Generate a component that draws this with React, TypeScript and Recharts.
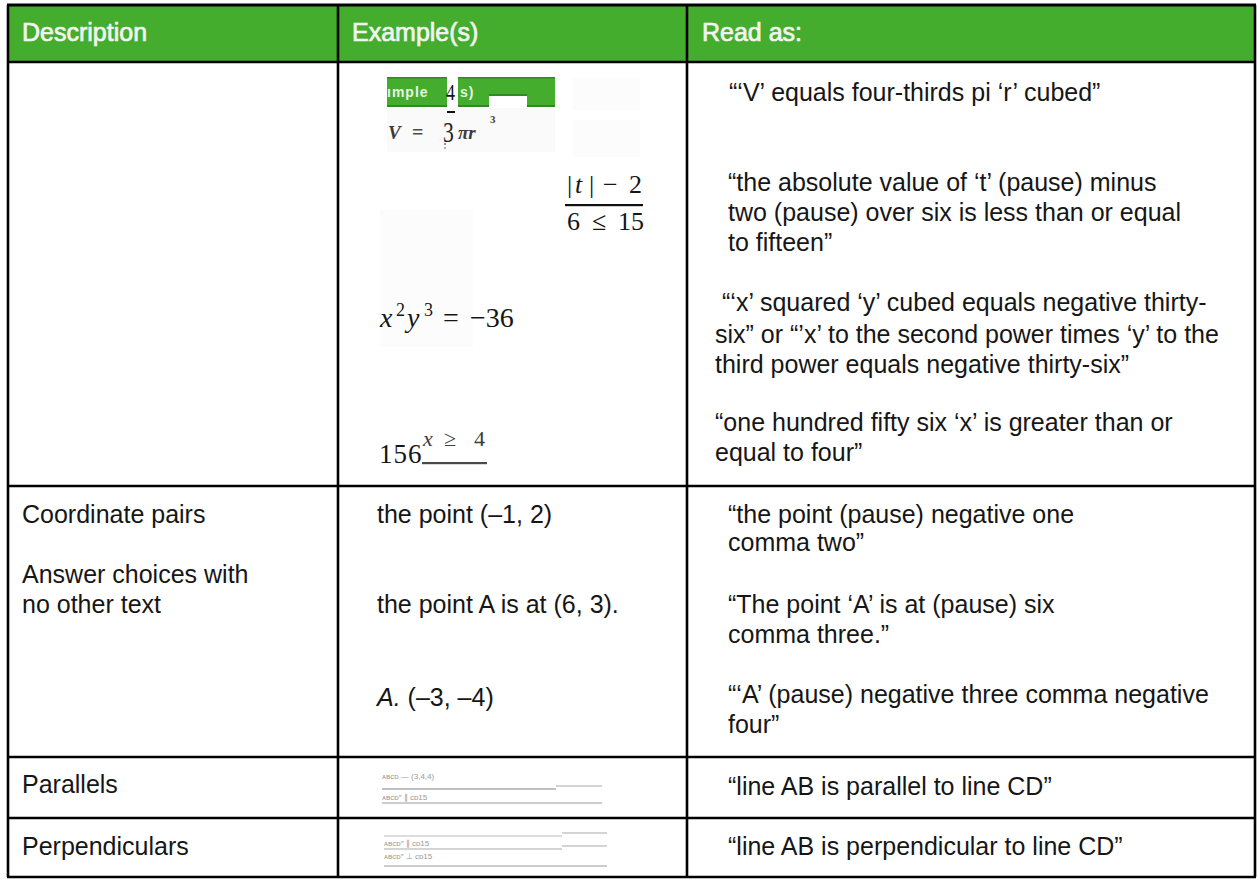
import React from 'react';
import { Surface, Layer, Rectangle } from 'recharts';

// ---------- content ----------
const HEADERS = ['Description', 'Example(s)', 'Read as:'];

const DESCRIPTION_LINES = [
  'Coordinate pairs',
  'Answer choices with',
  'no other text',
  'Parallels',
  'Perpendiculars',
];

const EXAMPLE_LINES = ['the point (–1, 2)', 'the point A is at (6, 3).', ' (–3, –4)'];
const EXAMPLE_ITALIC_PREFIX = ['', '', 'A.'];

const READ_AS_LINES = [
  '“‘V’ equals four-thirds pi ‘r’ cubed”',
  '“the absolute value of ‘t’ (pause) minus',
  'two (pause) over six is less than or equal',
  'to fifteen”',
  '“‘x’ squared ‘y’ cubed equals negative thirty-',
  'six” or “’x’ to the second power times ‘y’ to the',
  'third power equals negative thirty-six”',
  '“one hundred fifty six ‘x’ is greater than or',
  'equal to four”',
  '“the point (pause) negative one',
  'comma two”',
  '“The point ‘A’ is at (pause) six',
  'comma three.”',
  '“‘A’ (pause) negative three comma negative',
  'four”',
  '“line AB is parallel to line CD”',
  '“line AB is perpendicular to line CD”',
];

const FRACTION_NUM = ['|', 't', '|', '−', '2'];
const FRACTION_DEN = ['6', '≤', '15'];
const POWER_PARTS = ['x', '2', 'y', '3', '=', '−36'];
const INEQ_PARTS = ['156', 'x', '≥', '4'];
const VOLUME_PARTS = ['V', '=', '3', 'πr', '3', '4'];
const SCRAP_TEXT = ['ımple', 's)'];
const PARALLEL_SCRAPS = ['ᴀʙᴄᴅ — (3,4,4)', 'ᴀʙᴄᴅ″ ∥ ᴄᴅ15'];
const PERP_SCRAPS = ['ᴀʙᴄᴅ″ ∥ ᴄᴅ15', 'ᴀʙᴄᴅ″ ⊥ ᴄᴅ15'];

// ---------- layout ----------
const W = 1257;
const H = 879;
const COL_X = [8, 338, 687, 1255];
const ROW_Y = [5, 62, 486, 757, 818, 877];
const GREEN = '#44ad2d';
const DARK_GREEN = '#35862a';
const SANS = '"Liberation Sans", Arial, sans-serif';
const SERIF = '"Liberation Serif", "Times New Roman", serif';
const FS = 25;
const BASE = 8; // centre -> baseline offset

const HEADER_X = [22, 352, 702];
const DESC_POS = [[22, 515], [22, 575], [22, 605], [22, 785], [22, 847]];
const EX_POS = [[377, 515], [377, 605], [377, 698]];
const READ_POS = [
  [729, 93], [728, 183], [728, 213], [728, 243],
  [722, 303], [715, 335], [715, 365], [715, 423], [715, 453],
  [728, 515], [728, 543], [728, 605], [728, 635], [728, 695], [728, 725],
  [728, 787], [728, 847],
];

const TXT = '#161616';

function T({ x, y, children, size = FS, fill = TXT, family = SANS, style = 'normal', anchor = 'start', weight = 'normal', spacing = 0 }: any) {
  return (
    <text x={x} y={y} fontSize={size} fill={fill} fontFamily={family} fontStyle={style} textAnchor={anchor} fontWeight={weight} letterSpacing={spacing} style={{ whiteSpace: 'pre' }}>
      {children}
    </text>
  );
}

export default function App() {
  return (
    <div style={{ position: 'absolute', left: 0, top: 0, width: W, height: H, background: '#fff' }}>
      <Surface width={W} height={H}>
        <rect x={0} y={0} width={W} height={H} fill="#fff" />

        {/* header band */}
        <Rectangle x={COL_X[0]} y={ROW_Y[0]} width={COL_X[3] - COL_X[0]} height={ROW_Y[1] - ROW_Y[0]} fill={GREEN} />
        {HEADERS.map((h, i) => (
          <T key={h} x={HEADER_X[i]} y={41} fill="#f2f4f0">
            <tspan stroke="#f2f4f0" strokeWidth={0.7}>{h}</tspan>
          </T>
        ))}

        {/* faint image frames */}
        <Layer>
          <rect x={573} y={78} width={67} height={32} fill="#fcfcfc" />
          <rect x={573} y={120} width={67} height={37} fill="#fcfcfc" />
          <rect x={380} y={210} width={93} height={137} fill="#fcfcfc" />
          <rect x={387} y={108} width={168} height={44} fill="#fafafa" />
        </Layer>

        {/* V = 4/3 pi r^3 scrap image */}
        <Layer>
          <Rectangle x={387} y={77} width={60} height={30} fill={GREEN} />
          <Rectangle x={458} y={77} width={31} height={30} fill={GREEN} />
          <Rectangle x={489} y={77} width={38} height={19} fill={GREEN} />
          <Rectangle x={527} y={77} width={28} height={30} fill={GREEN} />
          <rect x={387} y={77} width={168} height={1.5} fill={DARK_GREEN} />
          <rect x={387} y={105} width={60} height={2} fill={DARK_GREEN} />
          <rect x={458} y={105} width={31} height={2} fill={DARK_GREEN} />
          <rect x={489} y={94} width={38} height={2} fill={DARK_GREEN} />
          <rect x={527} y={105} width={28} height={2} fill={DARK_GREEN} />
          <rect x={447} y={77} width={11} height={30} fill="#fff" />
          <T x={387} y={97} size={14} fill="#e9f3e4" weight="bold" spacing={1}>{SCRAP_TEXT[0]}</T>
          <T x={460} y={97} size={14} fill="#e9f3e4" weight="bold" spacing={1}>{SCRAP_TEXT[1]}</T>
          <g transform="translate(446,100) scale(0.75,1)">
            <T x={0} y={0} size={24} family={SERIF}>{VOLUME_PARTS[5]}</T>
          </g>
          <rect x={447} y={111} width={8} height={2} fill="#111" />
          <T x={388} y={139} size={19} family={SERIF} style="italic" weight="bold" fill="#3a3a3a">{VOLUME_PARTS[0]}</T>
          <T x={412} y={139} size={20} family={SERIF} weight="bold" fill="#4a4a4a">{VOLUME_PARTS[1]}</T>
          <g transform="translate(443,142) scale(0.72,1)">
            <T x={0} y={0} size={30} family={SERIF} fill="#222">{VOLUME_PARTS[2]}</T>
          </g>
          <circle cx={445} cy={144} r={1} fill="#777" />
          <circle cx={445} cy={148} r={1} fill="#999" />
          <T x={458} y={139} size={19} family={SERIF} style="italic" weight="bold" fill="#3a3a3a">{VOLUME_PARTS[3]}</T>
          <T x={490} y={123} size={11} family={SERIF} weight="bold" fill="#444">{VOLUME_PARTS[4]}</T>
        </Layer>

        {/* fraction |t|-2 over 6<=15 */}
        <Layer>
          <T x={567} y={193} size={26} family={SERIF}>{FRACTION_NUM[0]}</T>
          <T x={575} y={193} size={26} family={SERIF} style="italic">{FRACTION_NUM[1]}</T>
          <T x={589} y={193} size={26} family={SERIF}>{FRACTION_NUM[2]}</T>
          <T x={603} y={193} size={26} family={SERIF}>{FRACTION_NUM[3]}</T>
          <T x={629} y={193} size={26} family={SERIF}>{FRACTION_NUM[4]}</T>
          <rect x={565} y={204} width={78} height={2.2} fill="#111" />
          <T x={567} y={230} size={26} family={SERIF}>{FRACTION_DEN[0]}</T>
          <T x={592} y={230} size={26} family={SERIF}>{FRACTION_DEN[1]}</T>
          <T x={618} y={230} size={26} family={SERIF}>{FRACTION_DEN[2]}</T>
        </Layer>

        {/* x^2 y^3 = -36 */}
        <Layer>
          <T x={380} y={327} size={28} family={SERIF} style="italic">{POWER_PARTS[0]}</T>
          <T x={396} y={316} size={18} family={SERIF}>{POWER_PARTS[1]}</T>
          <T x={407} y={327} size={28} family={SERIF} style="italic">{POWER_PARTS[2]}</T>
          <T x={424} y={316} size={18} family={SERIF}>{POWER_PARTS[3]}</T>
          <T x={443} y={327} size={28} family={SERIF}>{POWER_PARTS[4]}</T>
          <T x={470} y={327} size={28} family={SERIF}>{POWER_PARTS[5]}</T>
        </Layer>

        {/* 156 x>=4 */}
        <Layer>
          <T x={379} y={463} size={27} family={SERIF} spacing={1}>{INEQ_PARTS[0]}</T>
          <T x={423} y={446} size={22} family={SERIF} style="italic" fill="#3c3c3c">{INEQ_PARTS[1]}</T>
          <T x={444} y={446} size={22} family={SERIF} fill="#3c3c3c">{INEQ_PARTS[2]}</T>
          <T x={474} y={446} size={22} family={SERIF} fill="#3c3c3c">{INEQ_PARTS[3]}</T>
          <rect x={422} y={462} width={65} height={2.2} fill="#4a4a4a" />
        </Layer>

        {/* parallels scrap */}
        <Layer>
          <T x={382} y={779} size={8} fill="#9a9a9a">{PARALLEL_SCRAPS[0]}</T>
          <line x1={382} y1={789} x2={556} y2={789} stroke="#aaa" strokeWidth={1.5} />
          <line x1={556} y1={786} x2={602} y2={786} stroke="#aaa" strokeWidth={1.2} />
          <T x={382} y={800} size={8} fill="#9a9a9a">{PARALLEL_SCRAPS[1]}</T>
          <line x1={382} y1={803} x2={602} y2={803} stroke="#bbb" strokeWidth={1.5} />
        </Layer>
        {/* perpendiculars scrap */}
        <Layer>
          <line x1={384} y1={836} x2={562} y2={836} stroke="#bbb" strokeWidth={1.2} />
          <line x1={562} y1={833} x2={607} y2={833} stroke="#aaa" strokeWidth={1.2} />
          <T x={384} y={846} size={8} fill="#9a9a9a">{PERP_SCRAPS[0]}</T>
          <line x1={384} y1={849} x2={562} y2={849} stroke="#aaa" strokeWidth={1.2} />
          <line x1={562} y1={846} x2={607} y2={846} stroke="#aaa" strokeWidth={1.2} />
          <T x={384} y={859} size={8} fill="#9a9a9a">{PERP_SCRAPS[1]}</T>
          <line x1={384} y1={866} x2={607} y2={866} stroke="#bbb" strokeWidth={1.5} />
        </Layer>

        {/* text columns */}
        {DESCRIPTION_LINES.map((t, i) => (
          <T key={'d' + i} x={DESC_POS[i][0]} y={DESC_POS[i][1] + BASE}>{t}</T>
        ))}
        {EXAMPLE_LINES.map((t, i) => (
          <T key={'e' + i} x={EX_POS[i][0]} y={EX_POS[i][1] + BASE}>
            {EXAMPLE_ITALIC_PREFIX[i] ? <tspan fontStyle="italic">{EXAMPLE_ITALIC_PREFIX[i]}</tspan> : null}
            <tspan>{t}</tspan>
          </T>
        ))}
        {READ_AS_LINES.map((t, i) => (
          <T key={'r' + i} x={READ_POS[i][0]} y={READ_POS[i][1] + BASE}>{t}</T>
        ))}

        {/* grid lines */}
        <Layer>
          {ROW_Y.map((y, i) => (
            <line key={'h' + i} x1={COL_X[0] - 1} y1={y} x2={COL_X[3] + 1} y2={y} stroke="#000" strokeWidth={i === 0 ? 3 : 2.6} />
          ))}
          {COL_X.map((x, i) => (
            <line key={'v' + i} x1={x} y1={ROW_Y[0]} x2={x} y2={ROW_Y[ROW_Y.length - 1]} stroke="#000" strokeWidth={2.6} />
          ))}
        </Layer>
      </Surface>
    </div>
  );
}
